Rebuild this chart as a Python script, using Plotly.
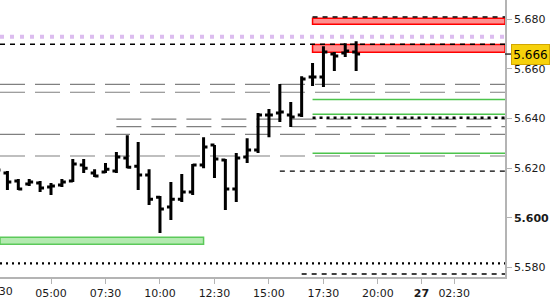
import plotly.graph_objects as go

# ---- data -------------------------------------------------------------
times = [2.5, 3.0, 3.5, 4.0, 4.5, 5.0, 5.5, 6.0, 6.5, 7.0, 7.5, 8.0, 8.5, 9.0,
         9.5, 10.0, 10.5, 11.0, 11.5, 12.0, 12.5, 13.0, 13.5, 14.0, 14.5, 15.0,
         15.5, 16.0, 16.5, 17.0, 17.5, 18.0, 18.5, 19.0]
opens = [5.6184, 5.6180, 5.6148, 5.6136, 5.6140, 5.6124, 5.6132, 5.6148, 5.6213,
         5.6180, 5.6184, 5.6188, 5.6241, 5.6208, 5.6172, 5.6083, 5.6043, 5.6075,
         5.6104, 5.6213, 5.6293, 5.6233, 5.6116, 5.6245, 5.6273, 5.6414, 5.6422,
         5.6414, 5.6414, 5.6567, 5.6567, 5.6660, 5.6664, 5.6668]
highs = [5.6200, 5.6188, 5.6156, 5.6156, 5.6148, 5.6140, 5.6156, 5.6237, 5.6237,
         5.6196, 5.6221, 5.6265, 5.6333, 5.6305, 5.6196, 5.6088, 5.6144, 5.6176,
         5.6217, 5.6325, 5.6293, 5.6237, 5.6261, 5.6321, 5.6422, 5.6438, 5.6539,
         5.6467, 5.6571, 5.6624, 5.6692, 5.6668, 5.6704, 5.6712]
lows = [5.6172, 5.6112, 5.6112, 5.6128, 5.6104, 5.6092, 5.6124, 5.6144, 5.6180,
        5.6164, 5.6180, 5.6180, 5.6200, 5.6112, 5.6051, 5.5938, 5.5991, 5.6063,
        5.6092, 5.6200, 5.6160, 5.6031, 5.6063, 5.6221, 5.6261, 5.6325, 5.6386,
        5.6366, 5.6406, 5.6531, 5.6527, 5.6592, 5.6648, 5.6592]
closes = [5.6192, 5.6144, 5.6116, 5.6144, 5.6120, 5.6128, 5.6144, 5.6217, 5.6200,
          5.6168, 5.6196, 5.6245, 5.6204, 5.6172, 5.6075, 5.6035, 5.6075, 5.6104,
          5.6213, 5.6285, 5.6237, 5.6116, 5.6241, 5.6273, 5.6414, 5.6414, 5.6426,
          5.6406, 5.6559, 5.6567, 5.6668, 5.6652, 5.6672, 5.6660]

last_price = 5.666
x_tick_vals = [2.5, 5, 7.5, 10, 12.5, 15, 17.5, 20, 22, 23.5]
x_tick_text = ["02:30", "05:00", "07:30", "10:00", "12:30", "15:00", "17:30",
               "20:00", "<b>27</b>", "02:30"]
y_tick_vals = [5.58, 5.60, 5.62, 5.64, 5.66, 5.68]
y_tick_text = ["5.580", "<b>5.600</b>", "5.620", "5.640", "5.660", "5.680"]

X_MIN, X_MAX = 2.66, 25.83
Y_MIN, Y_MAX = 5.5761, 5.6878

# zones: (start, end, low, high, fill, border)
zones = [
    (17.0, X_MAX, 5.6780, 5.6804, "#ff8f8f", "#ff0000"),
    (17.0, X_MAX, 5.6667, 5.6699, "#ff8f8f", "#ff0000"),
    (X_MIN, 12.0, 5.5893, 5.5921, "#b3eab0", "#5cc95a"),
]
# levels: (start, price, colour, width, dash)
levels = [
    (X_MIN, 5.6730, "#dcbcef", 4, "4px,6px"),
    (X_MIN, 5.6700, "#000000", 1.5, "5px,5px"),
    (17.0, 5.6809, "#000000", 1.5, "5px,5px"),
    (X_MIN, 5.6538, "#808080", 1.2, "25px,10px"),
    (X_MIN, 5.6506, "#808080", 1.2, "25px,10px"),
    (8.0, 5.6398, "#808080", 1.2, "25px,10px"),
    (8.0, 5.6367, "#808080", 1.2, "25px,10px"),
    (X_MIN, 5.6336, "#808080", 1.2, "25px,10px"),
    (X_MIN, 5.6249, "#808080", 1.2, "25px,10px"),
    (17.0, 5.6477, "#4cc44c", 1.6, "solid"),
    (17.0, 5.6417, "#4cc44c", 1.6, "solid"),
    (17.0, 5.6260, "#4cc44c", 1.6, "solid"),
    (17.0, 5.6403, "#000000", 2.5, "3px,4px"),
    (15.5, 5.6188, "#000000", 1.3, "5px,5px"),
    (X_MIN, 5.5816, "#000000", 2.2, "2px,4px"),
    (16.5, 5.5773, "#000000", 1.3, "5px,5px"),
]

# ---- figure -----------------------------------------------------------
fig = go.Figure()
fig.add_trace(go.Ohlc(
    x=times, open=opens, high=highs, low=lows, close=closes,
    increasing=dict(line=dict(color="black", width=3)),
    decreasing=dict(line=dict(color="black", width=3)),
    tickwidth=0.36, showlegend=False, hoverinfo="skip",
))

shapes = []
for x0, x1, y0, y1, fill, border in zones:
    shapes.append(dict(type="rect", xref="x", yref="y", x0=x0, x1=x1, y0=y0, y1=y1,
                       fillcolor=fill, line=dict(color=border, width=1.5), layer="below"))
for x0, y, col, w, dash in levels:
    shapes.append(dict(type="line", xref="x", yref="y", x0=x0, x1=X_MAX, y0=y, y1=y,
                       line=dict(color=col, width=w, dash=dash), layer="below"))
# small tick for current price
shapes.append(dict(type="line", xref="paper", yref="y", x0=1.0, x1=1.012,
                   y0=last_price, y1=last_price, line=dict(color="#333", width=1.5)))

font = dict(family="DejaVu Sans", size=11, color="#1a1a1a")
annotations = [dict(xref="paper", yref="y", x=1.0, y=last_price, xanchor="left",
                    yanchor="middle", xshift=6, text="5.666", showarrow=False,
                    bgcolor="#f6d10c", bordercolor="#d2a600", borderwidth=1,
                    borderpad=1, width=35, height=17,
                    font=dict(family="DejaVu Sans", size=12, color="black"))]
# leftmost time label, whose tick falls just outside the plot
first_tick_paper = (x_tick_vals[0] - X_MIN) / (X_MAX - X_MIN)
annotations.append(dict(xref="paper", yref="paper", x=first_tick_paper, y=0,
                        xanchor="center", yanchor="top", yshift=-6,
                        text=x_tick_text[0], showarrow=False, font=font))

fig.update_layout(
    width=550, height=300,
    margin=dict(l=0, r=45, t=0, b=23),
    paper_bgcolor="white", plot_bgcolor="white",
    shapes=shapes,
    font=font,
    xaxis=dict(range=[X_MIN, X_MAX], tickvals=x_tick_vals, ticktext=x_tick_text,
               showgrid=False, zeroline=False, showline=True, linecolor="#b4b4b4",
               linewidth=1.5, ticks="outside", ticklen=5, tickcolor="#b4b4b4",
               rangeslider=dict(visible=False), tickfont=font, fixedrange=True),
    yaxis=dict(range=[Y_MIN, Y_MAX], side="right", tickvals=y_tick_vals,
               ticktext=y_tick_text, showgrid=False, zeroline=False, showline=True,
               linecolor="#b4b4b4", linewidth=1.5, ticks="outside", ticklen=5,
               tickcolor="#b4b4b4", tickfont=font, fixedrange=True),
    annotations=annotations,
)

fig.write_html("out.html")
